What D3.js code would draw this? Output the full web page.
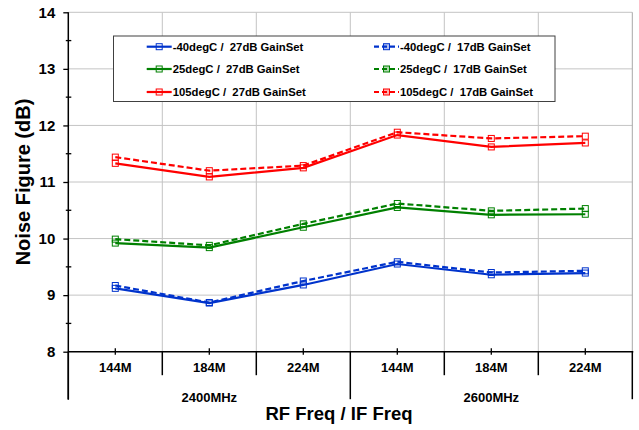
<!DOCTYPE html>
<html><head><meta charset="utf-8">
<script src="https://cdn.jsdelivr.net/npm/d3@7"></script>
<style>body{margin:0;background:#fff}svg{display:block;font-family:"Liberation Sans",Arial,sans-serif;font-weight:bold}</style>
</head><body><svg id="c" width="639" height="430"></svg>
<script>
const categories = ["144M","184M","224M","144M","184M","224M"];
const groups = ["2400MHz","2600MHz"];
const yTicks = [8,9,10,11,12,13,14];
const nf_m40_27 = [9.12, 8.86, 9.18, 9.55, 9.36, 9.39];
const nf_m40_17 = [9.17, 8.87, 9.25, 9.59, 9.40, 9.43];
const nf_25_27  = [9.92, 9.84, 10.20, 10.55, 10.42, 10.43];
const nf_25_17  = [9.99, 9.88, 10.26, 10.62, 10.49, 10.53];
const nf_105_27 = [11.33, 11.09, 11.25, 11.83, 11.62, 11.69];
const nf_105_17 = [11.44, 11.20, 11.29, 11.88, 11.77, 11.81];
const seriesNames = ["-40degC /  27dB GainSet","-40degC /  17dB GainSet","25degC /  27dB GainSet","25degC /  17dB GainSet","105degC /  27dB GainSet","105degC /  17dB GainSet"];

const series = [
  {name:seriesNames[0], values:nf_m40_27, color:"#0033CC", dash:null, col:0,row:0},
  {name:seriesNames[1], values:nf_m40_17, color:"#0033CC", dash:"6,3", col:1,row:0},
  {name:seriesNames[2], values:nf_25_27, color:"#008000", dash:null, col:0,row:1},
  {name:seriesNames[3], values:nf_25_17, color:"#008000", dash:"6,3", col:1,row:1},
  {name:seriesNames[4], values:nf_105_27, color:"#FF0000", dash:null, col:0,row:2},
  {name:seriesNames[5], values:nf_105_17, color:"#FF0000", dash:"6,3", col:1,row:2}
];

const L=68.3, R=632.3, T=12.3, B=351.7;
const svg=d3.select("#c");
const idx=d3.range(categories.length);
const x=d3.scaleBand().domain(idx).range([L,R]).paddingInner(0).paddingOuter(0);
const xc=i=>x(i)+x.bandwidth()/2;
const xb=i=>L+i*x.bandwidth();
const y=d3.scaleLinear().domain([8,14]).range([B,T]);

// gridlines
const g=svg.append("g");
g.selectAll("line.h").data(yTicks.filter(v=>v>8)).join("line")
 .attr("x1",L).attr("x2",R).attr("y1",d=>y(d)).attr("y2",d=>y(d))
 .attr("stroke","#c4c4c4").attr("stroke-width",1);
g.selectAll("line.v").data(d3.range(1,categories.length)).join("line")
 .attr("x1",d=>xb(d)).attr("x2",d=>xb(d)).attr("y1",T).attr("y2",B)
 .attr("stroke","#c4c4c4").attr("stroke-width",1);
g.append("line").attr("x1",R).attr("x2",R).attr("y1",T).attr("y2",B).attr("stroke","#a8a8a8");

// y axis
const ya=svg.append("g").attr("transform",`translate(${L},0)`)
 .call(d3.axisLeft(y).tickValues(yTicks).tickSize(5).tickPadding(8).tickFormat(d3.format("d")));
ya.select(".domain").attr("stroke","#000").attr("stroke-width",1.5).attr("d",`M0,${T}V${B+48}`);
ya.selectAll(".tick line").attr("stroke","#000").attr("stroke-width",1.3);
ya.selectAll(".tick text").attr("font-size",15).attr("font-weight","bold").attr("fill","#000")
 .attr("font-family","Liberation Sans, Arial, sans-serif");
const minorVals=d3.range(8.5,14,1);
const ym=svg.append("g");
ym.selectAll("line").data(minorVals).join("line")
 .attr("x1",L-2.5).attr("x2",L+3).attr("y1",d=>y(d)).attr("y2",d=>y(d))
 .attr("stroke","#000").attr("stroke-width",1.3);

// x axis
const xa=svg.append("g").attr("transform",`translate(0,${B})`)
 .call(d3.axisBottom(x).tickSize(3).tickPadding(8).tickFormat(i=>categories[i]));
xa.select(".domain").attr("stroke","#000").attr("stroke-width",1.5).attr("d",`M${L},0H${R+1}`);
xa.selectAll(".tick line").attr("stroke","#000").attr("stroke-width",1.3).attr("y1",-3.5);
xa.selectAll(".tick text").attr("font-size",13).attr("font-weight","bold").attr("fill","#000")
 .attr("font-family","Liberation Sans, Arial, sans-serif");
// boundary ticks
svg.append("g").selectAll("line").data(d3.range(0,categories.length+1)).join("line")
 .attr("x1",d=>xb(d)).attr("x2",d=>xb(d)).attr("y1",B)
 .attr("y2",d=>(d%3===0)?B+47.5:B+23.5)
 .attr("stroke","#000").attr("stroke-width",1.5);
// group labels
svg.append("g").selectAll("text").data(groups).join("text")
 .attr("x",(d,i)=>(xb(i*3)+xb(i*3+3))/2).attr("y",401.5)
 .attr("text-anchor","middle").attr("font-size",13).text(d=>d);

// titles
svg.append("text").attr("x",339).attr("y",420).attr("text-anchor","middle")
 .attr("font-size",18.5).text("RF Freq / IF Freq");
svg.append("text").attr("transform",`translate(30,${(T+B)/2}) rotate(-90)`)
 .attr("text-anchor","middle").attr("font-size",20).text("Noise Figure (dB)");

// lines
const line=d3.line().x((d,i)=>xc(i)).y(d=>y(d));
const sg=svg.append("g").selectAll("g").data(series).join("g");
sg.append("path").attr("d",d=>line(d.values)).attr("fill","none")
 .attr("stroke",d=>d.color).attr("stroke-width",2.2)
 .attr("stroke-dasharray",d=>d.dash);
sg.selectAll("rect").data(d=>d.values.map(v=>({v,c:d.color}))).join("rect")
 .attr("x",(d,i)=>xc(i)-3).attr("y",d=>y(d.v)-3).attr("width",6).attr("height",6)
 .attr("fill","none").attr("stroke",d=>d.c).attr("stroke-width",1);

// legend
const lg=svg.append("g");
lg.append("rect").attr("x",113.5).attr("y",36).attr("width",441.5).attr("height",65.5)
 .attr("fill","#fff").attr("stroke","#404040").attr("stroke-width",1);
const colX=[146.7,374], rowY=[46.7,69,92];
const it=lg.selectAll("g").data(series).join("g")
 .attr("transform",d=>`translate(${colX[d.col]},${rowY[d.row]})`);
it.append("line").attr("x1",0).attr("x2",25).attr("stroke",d=>d.color).attr("stroke-width",2.2)
 .attr("stroke-dasharray",d=>d.dash?"5,3":null);
it.append("rect").attr("x",9.5).attr("y",-3).attr("width",6).attr("height",6)
 .attr("fill",d=>d.dash?d.color:"none").attr("fill-opacity",0.3).attr("stroke",d=>d.color).attr("stroke-width",1);
it.append("text").attr("x",26).attr("y",4).attr("font-size",11.3).style("white-space","pre")
 .text(d=>d.name);
</script></body></html>
